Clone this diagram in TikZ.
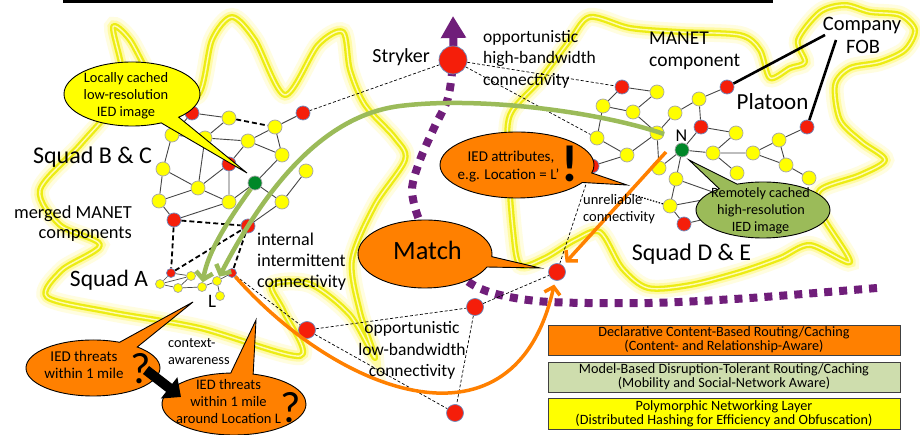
\documentclass[tikz,border=0pt]{standalone}
\usepackage{fontspec}
\setmainfont{Carlito}
\usetikzlibrary{shapes.callouts,arrows.meta}
\pgfdeclarelayer{glow}
\pgfdeclarelayer{bg}
\pgfsetlayers{glow,bg,main}
\definecolor{nred}{RGB}{245,30,10}
\definecolor{nyel}{RGB}{255,255,0}
\definecolor{ngrn}{RGB}{0,135,40}
\definecolor{orng}{RGB}{255,128,0}
\definecolor{olive}{RGB}{155,187,89}
\definecolor{purp}{RGB}{112,30,122}
\definecolor{boxg}{RGB}{206,221,173}
\definecolor{glowY}{RGB}{236,236,20}
\definecolor{edgeC}{RGB}{70,70,70}
\definecolor{rimB}{RGB}{110,140,190}
\newcommand{\myfs}[1]{\fontsize{#1}{#1}\selectfont}
\tikzset{
 rn/.style={circle,inner sep=0pt,minimum size=14pt,fill=nred,draw=rimB,line width=0.7pt},
 yn/.style={circle,inner sep=0pt,minimum size=14pt,fill=nyel,draw=black!35,line width=0.7pt},
 gn/.style={circle,inner sep=0pt,minimum size=14pt,fill=ngrn,draw=black!35,line width=0.7pt},
 sm/.style={minimum size=9pt},
 bignode/.style={minimum size=17pt},
 ed/.style={draw=edgeC,line width=0.9pt},
 tdash/.style={draw=black,line width=1.8pt,dash pattern=on 5pt off 3pt},
 thind/.style={draw=black,line width=0.7pt,dash pattern=on 3pt off 2pt},
 bub/.style={ellipse callout,draw=black,line width=0.9pt,inner sep=0pt,callout pointer arc=18},
 tx/.style={anchor=base,inner sep=0pt},
 glowline/.style={line width=6pt,draw=glowY,line join=round,
   preaction={draw=yellow!12,line width=18pt},
   preaction={draw=yellow!35,line width=11pt},
   postaction={draw=yellow!30!white,line width=1.4pt}},
 garr/.style={draw=olive,line width=4.5pt,-{Straight Barb[length=7pt,width=17pt]}},
 oarr/.style={draw=orng,line width=3.5pt,-{Straight Barb[length=7pt,width=16pt]}},
 lay/.style={draw=black!75,line width=0.9pt,minimum width=352pt,inner sep=0pt,align=center,font=\fontsize{14.2}{14}\selectfont},
}
\begin{document}
\begin{tikzpicture}[x=1pt,y=-1pt]
\useasboundingbox (0,0) rectangle (920,435);
\begin{pgfonlayer}{glow}
\fill[white] (0,0) rectangle (920,435);
\draw[glowline] plot[smooth cycle] coordinates {(113,27) (122,70) (118,100) (80,145) (40,190) (60,225) (100,245) (62,270) (47,297) (110,312) (200,328) (300,356) (284,312) (272,285) (310,284) (350,315) (375,358) (360,312) (352,260) (375,205) (405,160) (395,138) (365,105) (350,70) (343,32) (318,45) (285,95) (255,40) (232,17) (212,40) (198,95) (160,90) (130,40)};
\draw[glowline] plot[smooth cycle] coordinates {(590,17) (630,28) (680,32) (740,35) (760,50) (770,78) (790,68) (805,62) (798,40) (820,12) (845,5) (870,12) (900,15) (915,30) (905,50) (880,62) (850,68) (835,85) (840,120) (862,142) (885,160) (860,175) (820,190) (822,215) (850,262) (810,245) (780,258) (740,272) (690,285) (648,288) (622,268) (600,232) (575,240) (545,258) (520,265) (513,230) (508,160) (510,115) (540,80) (570,40)};
\end{pgfonlayer}
\draw[line width=3pt] (63,1.5) -- (773,1.5);
% ---- nodes Squad B & C
\node[rn] (b1) at (192,113) {};
\node[yn] (b2) at (229,118) {};
\node[yn] (b3) at (275,127) {};
\node[rn] (b4) at (303,113) {};
\node[yn] (b5) at (172,135) {};
\node[yn] (b6) at (205,138) {};
\node[yn] (b7) at (248,141) {};
\node[yn] (b8) at (282,155) {};
\node[rn] (b9) at (229,164) {};
\node[yn] (b10) at (163,169) {};
\node[yn] (b11) at (306,171) {};
\node[gn] (b12) at (255,183) {};
\node[yn] (b13) at (198,188) {};
\node[yn] (b14) at (159,201) {};
\node[yn] (b15) at (229,202) {};
\node[yn] (b16) at (282,202) {};
\node[rn] (b17) at (174,220) {};
\node[rn] (b18) at (248,226) {};
% Squad A
\node[rn,sm] (a1) at (171,273) {};
\node[yn,sm] (a2) at (191,276) {};
\node[yn,sm] (a3) at (160,284) {};
\node[yn,sm] (a4) at (178,288) {};
\node[yn,sm] (a5) at (202,287) {};
\node[yn,sm] (a6) at (217,281) {};
\node[rn,sm] (a7) at (232,273) {};
\node[yn,sm] (a8) at (220,296) {};
% Squad D & E
\node[rn] (d1) at (622,87) {};
\node[yn] (d2) at (657,92) {};
\node[yn] (d3) at (603,106) {};
\node[yn] (d4) at (633,112) {};
\node[yn] (d5) at (699,99) {};
\node[rn] (d6) at (727,87) {};
\node[yn] (d7) at (675,113) {};
\node[rn] (d8) at (701,127) {};
\node[yn] (d9) at (657,133) {};
\node[yn] (d10) at (597,138) {};
\node[yn] (d11) at (627,155) {};
\node[rn] (d12) at (592,166) {};
\node[yn] (d13) at (736,133) {};
\node[rn] (d14) at (807,127) {};
\node[yn] (d15) at (779,140) {};
\node[gn] (d16) at (682,150) {};
\node[yn] (d17) at (713,153) {};
\node[yn] (d18) at (753,153) {};
\node[yn] (d19) at (786,165) {};
\node[yn] (d20) at (809,178) {};
\node[yn] (d21) at (737,173) {};
\node[yn] (d22) at (659,168) {};
\node[yn] (d23) at (676,179) {};
\node[yn] (d24) at (670,206) {};
\node[rn] (d25) at (684,224) {};
\node[yn] (h1) at (724,196) {};
\node[yn] (h2) at (726,214) {};
% other red nodes
\node[rn,minimum size=28pt] (s) at (453,60) {};
\node[rn,bignode] (o1) at (307,330) {};
\node[rn,bignode] (o2) at (475,307) {};
\node[rn,bignode] (o3) at (455,413) {};
\node[rn,bignode] (m) at (557,272) {};
\coordinate (f1) at (825,35);
\coordinate (f2) at (836,40);
\coordinate (cU) at (627,193);
\coordinate (oS) at (666,152);
\coordinate (gS) at (664,134);
\coordinate (gw) at (400,106);
\coordinate (ka) at (146,370);
\coordinate (kb) at (181,397);
\begin{pgfonlayer}{bg}
\draw[purp,line width=8pt,dash pattern=on 8pt off 7pt,-{Triangle[length=22pt,width=24pt]}] plot[smooth] coordinates {(877,288) (750,298) (650,303) (550,302) (500,295) (470,283) (440,255) (420,222) (412,190) (420,160) (434,128) (448,98) (453,60) (453,16)};
\draw[ed] (b1)--(b2) (b3)--(b4) (b2)--(b6) (b1)--(b5) (b5)--(b6) (b6)--(b7) (b3)--(b7) (b3)--(b8) (b7)--(b8) (b7)--(b9) (b5)--(b10) (b6)--(b13) (b10)--(b13) (b13)--(b9) (b9)--(b15) (b10)--(b14) (b13)--(b15) (b14)--(b13) (b14)--(b17) (b17)--(b15) (b15)--(b12) (b12)--(b8) (b12)--(b16) (b11)--(b16) (b16)--(b18);
\draw[tdash] (b2)--(b3) (b17)--(b18) (b17)--(a1) (b18)--(a7) (a1)--(b18);
\draw[ed,line width=0.7pt] (a1)--(a2) (a1)--(a3) (a3)--(a2) (a3)--(a4) (a4)--(a2) (a4)--(a5) (a5)--(a6) (a6)--(a7) (a6)--(a8);
\draw[ed] (d1)--(d3) (d1)--(d2) (d2)--(d4) (d3)--(d4) (d3)--(d10) (d4)--(d9) (d10)--(d11) (d11)--(d9) (d9)--(d7) (d7)--(d5) (d5)--(d6) (d5)--(d8) (d9)--(d22) (d8)--(d13) (d8)--(d16) (d16)--(d17) (d16)--(d22) (d16)--(d23) (d17)--(d18) (d17)--(d21) (d13)--(d17) (d18)--(d15) (d15)--(d14) (d15)--(d19) (d18)--(d19) (d19)--(d20) (d23)--(d24) (d24)--(d25) (d12)--(d11) (d23)--(h1) (d24)--(h1) (d25)--(h2);
\draw[thind] (s)--(b4) (s)--(d1) (s)--(d10) (a7)--(o1) (o1)--(o2) (o1)--(o3) (o2)--(m) (o2)--(o3) (m)--(d12);
\draw[black,line width=1.2pt,dash pattern=on 1.5pt off 1.5pt] (cU)--(d24);
\end{pgfonlayer}
\draw[line width=2.6pt] (d6)--(f1) (d14)--(f2);
% ---- bubbles
\node[bub,fill=nyel,minimum width=136pt,minimum height=64pt,callout absolute pointer={(247,173)}] (bu1) at (132,94) {};
\node[bub,fill=orng,minimum width=154pt,minimum height=66pt,callout absolute pointer={(627,185)}] (bu2) at (517,165) {};
\node[bub,fill=olive,minimum width=134pt,minimum height=56pt,callout absolute pointer={(689,160)}] (bu3) at (763,210) {};
\node[bub,fill=orng,minimum width=134pt,minimum height=68pt,callout absolute pointer={(540,268)}] (bu4) at (425,254) {};
\node[bub,fill=orng,minimum width=134pt,minimum height=56pt,callout absolute pointer={(193,302)}] (bu5) at (93,368) {};
\node[bub,fill=orng,minimum width=144pt,minimum height=62pt,callout absolute pointer={(256,320)}] (bu6) at (234,404) {};
% ---- arrows
\draw[garr] (b12) .. controls (232,215) and (208,250) .. (a5);
\draw[garr] (gS) .. controls (600,112) and (480,96) .. (gw) .. controls (340,113.5) and (280,160) .. (a6);
\draw[oarr,shorten >=4pt] (oS) -- (m);
\draw[oarr,shorten >=4pt] (a7) .. controls (340,395) and (515,460) .. (m);
\draw[line width=10pt,-{Triangle[length=15pt,width=26pt]}] (ka) -- (kb);
% ---- labels
\node[tx,font=\myfs{24}] (tSBC) at (92.5,164) {Squad B \& C};
\node[tx,font=\myfs{23.5}] (tSA) at (109,287) {Squad A};
\node[tx,font=\myfs{24}] (tSDE) at (691.5,260.5) {Squad D \& E};
\node[tx,font=\myfs{23}] (tPl) at (772.5,110) {Platoon};
\node[tx,anchor=base east,font=\myfs{20}] (tStr) at (430,63) {Stryker};
\node[tx,font=\myfs{20.5}] (tCo) at (862,30.5) {Company};
\node[tx,font=\myfs{20.5}] (tFOB) at (863,53.5) {FOB};
\node[tx,anchor=base west,font=\myfs{19.5}] (tMa1) at (649,45) {MANET};
\node[tx,anchor=base west,font=\myfs{19.5}] (tMa2) at (649,67) {component};
\node[tx,anchor=base east,font=\myfs{18.4}] (tMe1) at (132,219) {merged MANET};
\node[tx,anchor=base east,font=\myfs{18.4}] (tMe2) at (132,239) {components};
\node[tx,anchor=base west,font=\myfs{18}] (tIn1) at (257,245.5) {internal};
\node[tx,anchor=base west,font=\myfs{18}] (tIn2) at (257,266.5) {intermittent};
\node[tx,anchor=base west,font=\myfs{18}] (tIn3) at (257,287.5) {connectivity};
\node[tx,anchor=base west,font=\myfs{17.5}] (tOh1) at (483,42.5) {opportunistic};
\node[tx,anchor=base west,font=\myfs{17.5}] (tOh2) at (483,64) {high-bandwidth};
\node[tx,anchor=base west,font=\myfs{17.5}] (tOh3) at (483,85.5) {connectivity};
\node[tx,font=\myfs{17.5}] (tOl1) at (412,333.5) {opportunistic};
\node[tx,font=\myfs{17.5}] (tOl2) at (412,355) {low-bandwidth};
\node[tx,font=\myfs{17.5}] (tOl3) at (412,376.5) {connectivity};
\node[tx,anchor=base west,font=\myfs{14.5}] (tUn1) at (583,205) {unreliable};
\node[tx,anchor=base west,font=\myfs{14.5}] (tUn2) at (583,222) {connectivity};
\node[tx,anchor=base west,font=\myfs{14.3}] (tCx1) at (168,347) {context-};
\node[tx,anchor=base west,font=\myfs{14.3}] (tCx2) at (168,364) {awareness};
\node[tx,font=\myfs{19}] (tL) at (212,308) {L};
\node[tx,font=\myfs{18}] (tN) at (681.5,142) {N};
% bubble texts
\node[tx,font=\myfs{14.4}] (q1a) at (126,82.5) {Locally cached};
\node[tx,font=\myfs{14.4}] (q1b) at (126,99.5) {low-resolution};
\node[tx,font=\myfs{14.4}] (q1c) at (126,116.5) {IED image};
\node[tx,font=\myfs{15}] (q2a) at (511,162) {IED attributes,};
\node[tx,font=\myfs{15}] (q2b) at (508.5,180) {e.g. Location = L’};
\node[tx,font=\bfseries\myfs{52}] (q2c) at (570,182) {!};
\node[tx,font=\myfs{14.2}] (q3a) at (760.5,197.5) {Remotely cached};
\node[tx,font=\myfs{14.2}] (q3b) at (761,214.5) {high-resolution};
\node[tx,font=\myfs{14.2}] (q3c) at (760.5,231.5) {IED image};
\node[tx,font=\myfs{26.4}] (q4) at (427.5,260) {Match};
\node[tx,font=\myfs{15}] (q5a) at (84,361.5) {IED threats};
\node[tx,font=\myfs{15}] (q5b) at (84,378) {within 1 mile};
\node[tx,font=\myfs{44}] (q5c) at (141,383) {?};
\node[tx,font=\myfs{14.5}] (q6a) at (228.5,389.5) {IED threats};
\node[tx,font=\myfs{14.5}] (q6b) at (228.5,406.5) {within 1 mile};
\node[tx,font=\myfs{14.5}] (q6c) at (228.5,423) {around Location L};
\node[tx,font=\myfs{44}] (q6d) at (290.5,422) {?};
% ---- layer boxes
\node[lay,fill=orng,minimum height=30pt] (L1) at (724,340) {Declarative Content-Based Routing/Caching\\(Content- and Relationship-Aware)};
\node[lay,fill=boxg,minimum height=30pt] (L2) at (724,377) {Model-Based Disruption-Tolerant Routing/Caching\\(Mobility and Social-Network Aware)};
\node[lay,fill=nyel,minimum height=31pt] (L3) at (724,414) {Polymorphic Networking Layer\\(Distributed Hashing for Efficiency and Obfuscation)};
\end{tikzpicture}
\end{document}
